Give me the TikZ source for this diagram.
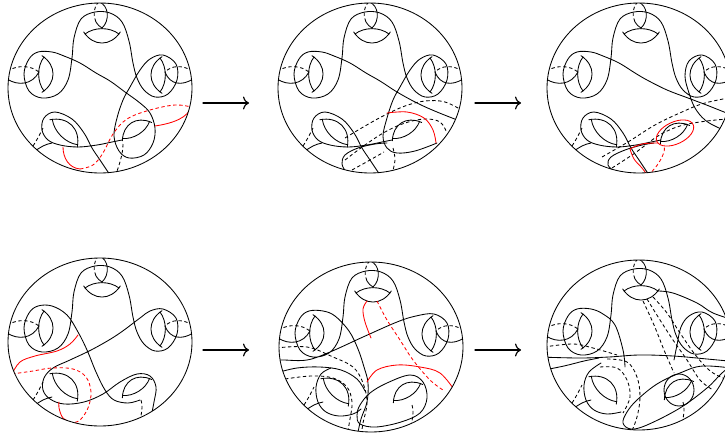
\documentclass[tikz,border=0pt]{standalone}
\usetikzlibrary{arrows.meta}
\begin{document}
\begin{tikzpicture}[x=1pt,y=-1pt,line width=0.85pt,line cap=round,
  dsh/.style={dash pattern=on 3.4pt off 2.6pt,line cap=butt},
  rd/.style={draw=red},
  arr/.style={-{To[length=6pt,width=13pt]},line width=1.15pt},
  lens/.pic={
    \draw (-1,0) .. controls (-0.45,-0.42) and (0.45,-0.42) .. (1,0);
    \draw (-1.08,-0.12) .. controls (-0.5,0.75) and (0.5,0.75) .. (1.08,-0.12);
  }]
\useasboundingbox (0,0) rectangle (725,436);
\newcommand\diskparts{%
  \pic[scale=17] at (2,-54) {lens};
  \pic[scale=17,rotate=90] at (-56,-14) {lens};
  \pic[scale=17,rotate=-90] at (60,-13) {lens};
  \pic[scale=18,rotate=135] at (-35,44) {lens};
  \draw (-1,-86) .. controls (9,-83) and (10,-67) .. (2,-60);
  \draw[dsh] (-1,-86) .. controls (-7,-81) and (-7,-72) .. (-4,-66);
  \draw (-4,-66) .. controls (-2,-63) and (0,-61) .. (2,-60);
  \draw[dsh] (-93,-17) .. controls (-82,-23) and (-70,-23) .. (-61,-16);
  \draw (-93,-9) .. controls (-82,-2) and (-68,-3) .. (-61,-16);
  \draw[dsh] (93,-17) .. controls (82,-23) and (72,-23) .. (65,-16);
  \draw (93,-9) .. controls (82,-2) and (70,-3) .. (65,-16);
  \draw (-66,64) .. controls (-60,59) and (-54,56) .. (-48,55);
  \draw[dsh] (-67,58) .. controls (-63,52) and (-60,46) .. (-57,40);
}
\newcommand\brlens[2]{\pic[scale=16,rotate=212] at (#1,#2) {lens};}
\newcommand\blloop{%
  \draw plot[smooth,tension=0.6] coordinates {(12,90) (0,72) (-8,60) (-16,45) (-28,31) (-45,24) (-56,30) (-58,42) (-52,52) (-40,57) (-22,59) (-3,57) (12,54) (22,52)};
}
% ---------------- panel 1
\begin{scope}[shift={(100,88)}]
 \begin{scope}
  \clip (0,0) ellipse (92 and 85);
  \diskparts \brlens{36}{42} \blloop
  \draw plot[smooth cycle,tension=0.6] coordinates {(30,-1) (40,-18) (50,-29) (63,-33) (76,-24) (77,-8) (68,6) (55,9) (44,2) (37,-10) (33,-25) (29,-47) (22,-66) (10,-75) (-5,-76) (-19,-69) (-26,-50) (-28,-30) (-32,-8) (-42,6) (-58,10) (-71,3) (-76,-14) (-71,-29) (-62,-36) (-48,-36) (-36,-32) (-20,-25) (-4,-15) (10,-7) (25,4) (40,15) (50,25) (55,40) (53,55) (44,67) (29,70) (19,63) (14,48) (17,30) (23,12)};
  \draw[dsh] (23,56) .. controls (23,65) and (20,75) .. (16,86);
  \draw[rd] (-37,59) .. controls (-37,70) and (-31,80) .. (-20,81);
  \draw[rd,dsh] plot[smooth,tension=0.6] coordinates {(-20,81) (-7,77) (3,65) (13,46) (27,31) (50,22) (75,17) (91,19)};
  \draw[rd] (91,19) .. controls (88,29) and (75,35) .. (55,38);
 \end{scope}
 \draw (0,0) ellipse (92 and 85);
\end{scope}
% ---------------- panel 2
\begin{scope}[shift={(370,88)}]
 \begin{scope}
  \clip (0,0) ellipse (92 and 85);
  \diskparts \brlens{36}{42} \blloop
  \draw plot[smooth,tension=0.6] coordinates {(67,55) (45,63) (27,65) (17,60) (13,48) (17,30) (23,12) (30,-1) (40,-18) (50,-29) (63,-33) (76,-24) (77,-8) (68,6) (55,9) (44,2) (37,-10) (33,-25) (29,-47) (22,-66) (10,-75) (-5,-76) (-19,-69) (-26,-50) (-28,-30) (-32,-8) (-42,6) (-58,10) (-71,3) (-76,-14) (-71,-29) (-62,-36) (-48,-36) (-36,-32) (-20,-25) (-4,-15) (10,-7) (27,4) (47,15) (67,24) (95,35)};
  \draw plot[smooth,tension=0.6] coordinates {(-24,84) (-28,76) (-25,67) (-12,60) (5,56) (17,55)};
  \draw[dsh] plot[smooth,tension=0.6] coordinates {(-25,50) (-5,38) (15,27) (35,18) (55,13) (75,14) (95,24)};
  \draw[dsh] plot[smooth,tension=0.6] coordinates {(-25,72) (-5,57) (15,44) (35,35) (55,31) (70,34) (77,45)};
  \draw[dsh] plot[smooth,tension=0.6] coordinates {(-18,82) (0,72) (14,64)};
  \draw[dsh] plot[smooth,tension=0.6] coordinates {(23,60) (25,72) (22,86)};
  \draw[rd] plot[smooth,tension=0.6] coordinates {(17,25) (37,24) (54,30) (63,42) (66,55)};
 \end{scope}
 \draw (0,0) ellipse (92 and 85);
\end{scope}
% ---------------- panel 3
\begin{scope}[shift={(639,88)}]
 \begin{scope}
  \clip (0,0) ellipse (92 and 85);
  \diskparts \brlens{35}{45} \blloop
  \draw plot[smooth,tension=0.6] coordinates {(100,30) (70,18) (49,10) (28,2) (8,-8) (-4,-15) (-20,-25) (-36,-32) (-48,-36) (-62,-36) (-71,-29) (-76,-14) (-71,3) (-58,10) (-42,6) (-32,-8) (-28,-30) (-26,-50) (-19,-69) (-5,-76) (10,-75) (22,-66) (29,-47) (33,-25) (37,-10) (44,2) (55,9) (68,6) (77,-8) (76,-24) (63,-33) (50,-27) (46,-12) (50,5) (56,20) (66,32) (80,40) (100,48)};
  \draw plot[smooth,tension=0.6] coordinates {(-24,84) (-31,77) (-28,69) (-14,62) (3,57) (15,55)};
  \draw[dsh] plot[smooth,tension=0.6] coordinates {(-37,69) (-11,54) (16,37) (43,24) (66,15) (100,8)};
  \draw[dsh] plot[smooth,tension=0.6] coordinates {(-27,80) (-4,65) (19,48) (41,38) (68,33) (100,30)};
  \draw[rd,rotate around={25:(36,45)}] (36,45) ellipse (20 and 11);
  \draw[rd] plot[smooth,tension=0.6] coordinates {(-9,61) (3,56) (19,55)};
  \draw[rd] plot[smooth,tension=0.6] coordinates {(-9,61) (-5,71) (3,80) (9,88)};
  \draw[rd,dsh] plot[smooth,tension=0.6] coordinates {(9,88) (19,76) (25,64) (25,57)};
 \end{scope}
 \draw (0,0) ellipse (92 and 85);
\end{scope}
% ---------------- panel 4
\begin{scope}[shift={(100,342)}]
 \begin{scope}
  \clip (0,0) ellipse (92 and 84);
  \diskparts \brlens{36}{45}
  \draw plot[smooth,tension=0.6] coordinates {(40,58) (28,61) (14,58) (5,48) (-4,30) (-13,8) (-22,-10) (-33,-27) (-48,-36) (-62,-36) (-71,-29) (-76,-14) (-71,3) (-58,10) (-42,6) (-32,-8) (-28,-30) (-26,-50) (-19,-69) (-5,-76) (10,-75) (22,-66) (29,-47) (33,-25) (37,-10) (44,2) (55,9) (68,6) (77,-8) (76,-24) (63,-33) (50,-31) (40,-24) (17,-7) (-7,7) (-30,18) (-47,26) (-56,36) (-57,48) (-50,57) (-36,62) (-16,60) (3,52) (20,40) (37,32) (50,34) (56,45) (54,60) (50,80)};
  \draw[dsh] plot[smooth,tension=0.6] coordinates {(41,58) (42,66) (40,80)};
  \draw[rd] plot[smooth,tension=0.6] coordinates {(-22,-7) (-30,2) (-43,9) (-65,14) (-80,20) (-88,32)};
  \draw[rd,dsh] plot[smooth,tension=0.6] coordinates {(-88,32) (-67,29) (-48,26) (-27,27) (-14,35) (-9,50) (-12,66) (-20,78) (-28,81)};
  \draw[rd] plot[smooth,tension=0.6] coordinates {(-28,81) (-37,76) (-41,66) (-41,60)};
 \end{scope}
 \draw (0,0) ellipse (92 and 84);
\end{scope}
% ---------------- panel 5
\begin{scope}[shift={(371,347)}]
 \begin{scope}
  \clip (0,0) ellipse (92 and 85);
  \diskparts \brlens{36}{45}
  \draw plot[smooth,tension=0.6] coordinates {(-100,13) (-88,13) (-64,13) (-41,5) (-8,-10) (26,-25) (45,-31) (63,-33) (76,-24) (77,-8) (68,6) (55,9) (44,2) (37,-10) (33,-25) (29,-47) (22,-66) (10,-75) (-5,-76) (-19,-69) (-26,-50) (-28,-30) (-32,-8) (-42,6) (-58,10) (-71,3) (-76,-14) (-71,-29) (-62,-36) (-48,-36) (-36,-31) (-22,-16) (-13,2) (-7,20) (-3,36) (-4,55) (-10,72) (-14,90)};
  \draw plot[smooth cycle,tension=0.6] coordinates {(-14,68) (-11,58) (-1,46) (16,36) (39,28) (52,35) (56,51) (49,66) (30,75) (5,80) (-11,77)};
  \draw plot[smooth,tension=0.6] coordinates {(-95,26) (-74,21) (-51,20) (-30,23) (-14,32) (-6,44)};
  \draw plot[smooth,tension=0.6] coordinates {(-40,21) (-50,27) (-55,40) (-53,55) (-45,65) (-32,69) (-18,67) (-10,62)};
  \draw[dsh] plot[smooth,tension=0.6] coordinates {(-95,1) (-64,0) (-38,10) (-18,20) (-8,36) (-4,56) (-8,76) (-10,90)};
  \draw[dsh] plot[smooth,tension=0.6] coordinates {(-86,32) (-60,29) (-38,31) (-24,40) (-19,55) (-21,72) (-24,88)};
  \draw[dsh] plot[smooth,tension=0.6] coordinates {(41,58) (42,66) (40,80)};
  \draw[rd] plot[smooth,tension=0.6] coordinates {(-4,-46) (-8,-38) (-6,-25) (0,-9)};
  \draw[rd,dsh] plot[smooth,tension=0.6] coordinates {(6,-46) (16,-27) (29,-7) (42,13) (59,33) (72,43)};
  \draw[rd] plot[smooth,tension=0.6] coordinates {(-4,35) (6,23) (26,18) (49,20) (69,26) (84,44)};
 \end{scope}
 \draw (0,0) ellipse (92 and 85);
\end{scope}
% ---------------- panel 6
\begin{scope}[shift={(639,345)}]
 \begin{scope}
  \clip (0,0) ellipse (92 and 85);
  \diskparts \brlens{39}{44}
  \draw plot[smooth,tension=0.6] coordinates {(-14,22) (-16,5) (-24,-20) (-36,-31) (-48,-36) (-62,-36) (-71,-29) (-76,-14) (-71,3) (-58,10) (-42,6) (-32,-8) (-28,-30) (-26,-50) (-19,-69) (-5,-76) (10,-75) (22,-66) (29,-47) (33,-25) (37,-10) (44,2) (55,9) (68,6) (77,-8) (76,-24) (63,-33) (50,-29) (42,-18) (38,0) (35,15)};
  \draw plot[smooth,tension=0.6] coordinates {(19,-54) (34,-52) (58,-42) (74,-32) (98,-24)};
  \draw plot[smooth,tension=0.6] coordinates {(-100,12) (-60,13) (-30,12) (0,10) (34,11) (68,14) (100,17)};
  \draw plot[smooth,tension=0.6] coordinates {(-100,26) (-75,21) (-55,16) (-40,13)};
  \draw plot[smooth,tension=0.6] coordinates {(100,24) (64,21) (41,28) (18,39) (-2,55) (-12,67) (-16,78) (-8,84) (8,80) (41,63) (68,43) (83,28) (100,14)};
  \draw (40,45) ellipse (15 and 16);
  \draw plot[smooth,tension=0.6] coordinates {(-38,18) (-50,27) (-55,40) (-53,55) (-45,65) (-32,69) (-18,67)};
  \draw[dsh] plot[smooth,tension=0.6] coordinates {(4,-44) (15,-20) (25,5) (35,28)};
  \draw[dsh] plot[smooth,tension=0.6] coordinates {(8,-46) (21,-25) (34,-5) (48,15) (61,35) (74,45)};
  \draw[dsh] plot[smooth,tension=0.6] coordinates {(14,-48) (28,-32) (41,-12) (58,12) (74,28) (95,37)};
  \draw[dsh] plot[smooth,tension=0.6] coordinates {(-95,2) (-66,-1) (-46,3) (-22,10)};
  \draw[dsh] plot[smooth,tension=0.6] coordinates {(-39,22) (-22,23) (-12,35) (-9,52) (-16,68)};
  \draw[dsh] plot[smooth,tension=0.6] coordinates {(-32,14) (-12,17) (-2,32) (1,52) (-2,72) (-8,88)};
  \draw[dsh] plot[smooth,tension=0.6] coordinates {(44,57) (45,66) (43,80)};
 \end{scope}
 \draw (0,0) ellipse (92 and 85);
\end{scope}
% ---------------- arrows
\coordinate (a1s) at (203,103); \coordinate (a1e) at (249,103);
\coordinate (a2s) at (475,103); \coordinate (a2e) at (521,103);
\coordinate (a3s) at (203,350); \coordinate (a3e) at (249,350);
\coordinate (a4s) at (475,350); \coordinate (a4e) at (521,350);
\draw[arr] (a1s) -- (a1e);
\draw[arr] (a2s) -- (a2e);
\draw[arr] (a3s) -- (a3e);
\draw[arr] (a4s) -- (a4e);
\end{tikzpicture}
\end{document}
